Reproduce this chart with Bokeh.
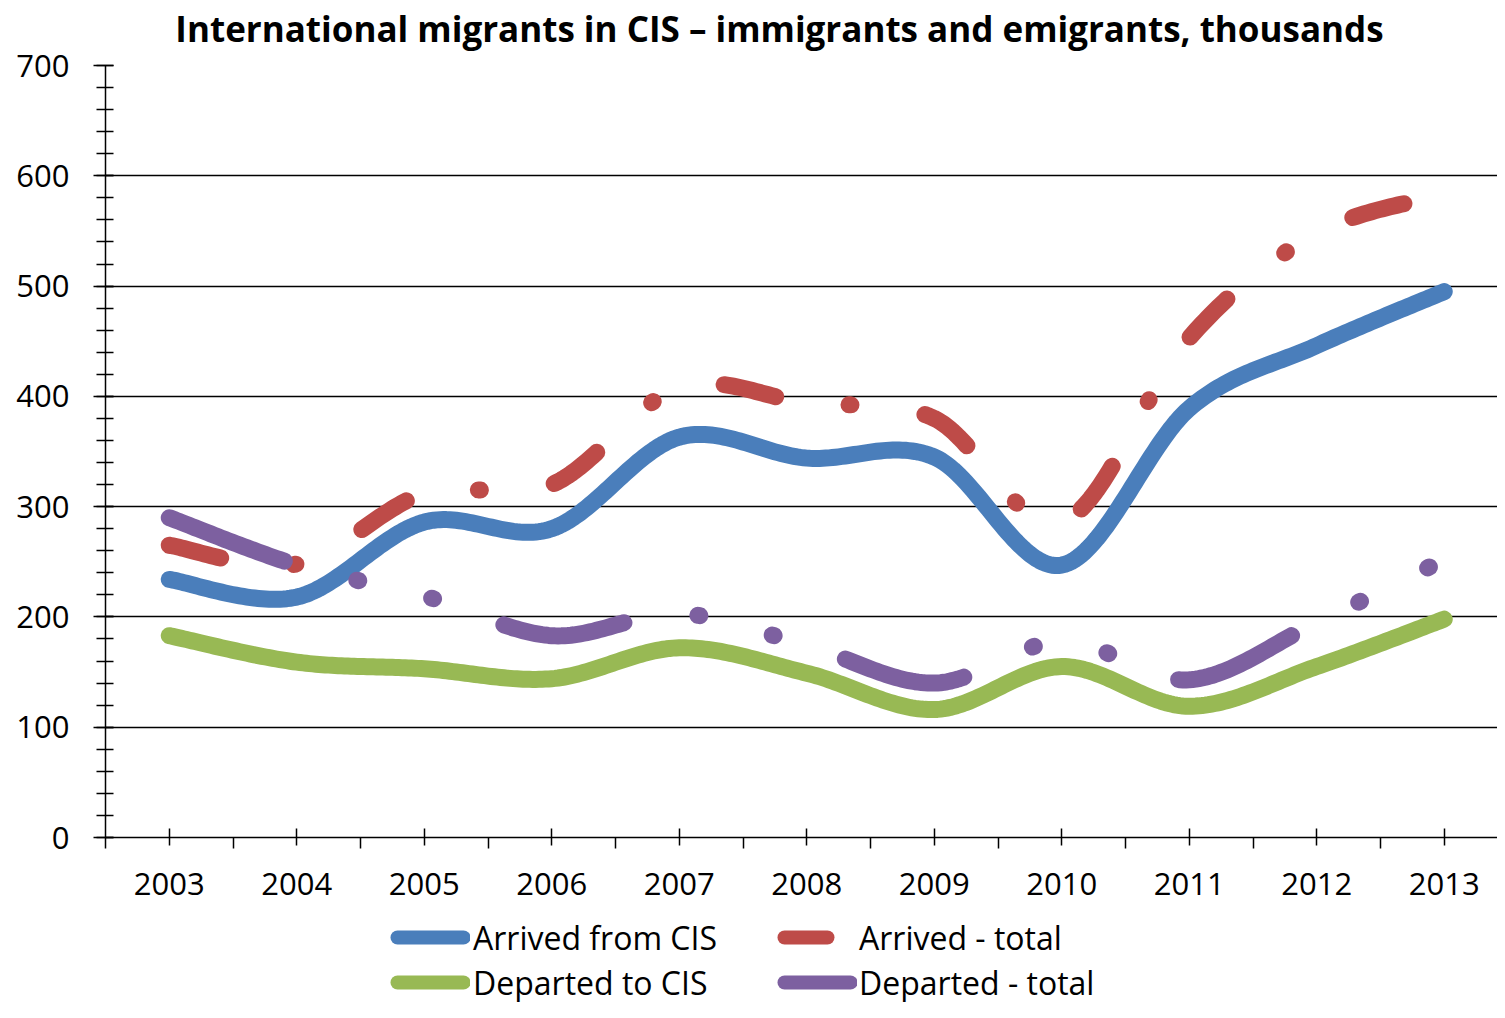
import numpy as np
from bokeh.plotting import figure
from bokeh.layouts import column
from bokeh.models import FixedTicker, Legend, LegendItem, Label
from bokeh.embed import file_html
from bokeh.resources import INLINE

# ---------------- data ----------------
years = [2003, 2004, 2005, 2006, 2007, 2008, 2009, 2010, 2011, 2012, 2013]
arrived_cis = [234, 218, 286, 280, 363, 344, 345, 247, 389, 446, 495]
arrived_total = [265, 248, 312, 320, 408, 394, 380, 286, 453, 548, 583]
departed_cis = [183, 159, 153, 144, 172, 149, 116, 155, 119, 155, 198]
departed_total = [290, 247, 219, 183, 203, 174, 140, 178, 143, 195, 252]
y_ticks = [0, 100, 200, 300, 400, 500, 600, 700]
y_minor = list(range(0, 701, 20))
title_text = "International migrants in CIS \u2013 immigrants and emigrants, thousands"
labels = ["Arrived from CIS", "Arrived - total", "Departed to CIS", "Departed - total"]

FONT = "Open Sans"


def smooth(xs, ys, n=40):
    """Excel-like smoothed line: Catmull-Rom Bezier through the data points."""
    xs = np.asarray(xs, float)
    ys = np.asarray(ys, float)
    outx, outy = [], []
    m = len(xs)
    for i in range(m - 1):
        i0 = max(i - 1, 0)
        i3 = min(i + 2, m - 1)
        p1x, p1y = xs[i], ys[i]
        p2x, p2y = xs[i + 1], ys[i + 1]
        c1x = p1x + (p2x - xs[i0]) / 6.0
        c1y = p1y + (p2y - ys[i0]) / 6.0
        c2x = p2x - (xs[i3] - p1x) / 6.0
        c2y = p2y - (ys[i3] - p1y) / 6.0
        t = np.linspace(0, 1, n, endpoint=(i == m - 2))
        a = (1 - t) ** 3
        b = 3 * (1 - t) ** 2 * t
        c = 3 * (1 - t) * t ** 2
        d = t ** 3
        outx.extend(a * p1x + b * c1x + c * c2x + d * p2x)
        outy.extend(a * p1y + b * c1y + c * c2y + d * p2y)
    return outx, outy


W = 1497
LEFT = 105
FRAME_W = W - LEFT
FRAME_TOP, FRAME_BOTTOM = 65, 837
B = 77
H_MAIN = FRAME_BOTTOM + B
H_LEG = 1002 - H_MAIN
step = 127.5
x_start = years[0] - 0.5
x_end = x_start + FRAME_W / step
px_per_unit = (FRAME_BOTTOM - FRAME_TOP) / (y_ticks[-1] - y_ticks[0])

BLUE, RED, GREEN, PURPLE = "#4A7EBB", "#BE4B48", "#98B954", "#7D60A0"

# ---------------- main chart ----------------
p = figure(width=W, height=H_MAIN, output_backend="svg", toolbar_location=None,
           x_range=(x_start, x_end), y_range=(y_ticks[0], y_ticks[-1]),
           min_border_left=LEFT, min_border_right=0, min_border_top=FRAME_TOP,
           min_border_bottom=B)
p.outline_line_color = None
p.background_fill_color = "white"
p.border_fill_color = "white"

# title as a label in the top panel (outside the clipped frame)
title_cx = x_start + (779 - LEFT) / step
title_cy = y_ticks[-1] + (FRAME_TOP - 28) / px_per_unit
p.add_layout(Label(x=title_cx, y=title_cy, text=title_text, text_align="center",
                   text_baseline="middle", text_font=FONT, text_font_style="bold",
                   text_font_size="35px", text_color="black"), "above")

p.xgrid.grid_line_color = None
p.ygrid.ticker = FixedTicker(ticks=y_ticks)
p.ygrid.grid_line_color = "black"
p.ygrid.grid_line_width = 1.5

p.yaxis.ticker = FixedTicker(ticks=y_ticks, minor_ticks=y_minor)
p.yaxis.axis_line_color = "black"
p.yaxis.axis_line_width = 1.5
p.yaxis.major_tick_line_color = "black"
p.yaxis.major_tick_line_width = 1.5
p.yaxis.major_tick_in = 8
p.yaxis.major_tick_out = 12
p.yaxis.minor_tick_line_color = "black"
p.yaxis.minor_tick_line_width = 1.5
p.yaxis.minor_tick_in = 8
p.yaxis.minor_tick_out = 9
p.yaxis.major_label_standoff = 24
p.yaxis.major_label_text_font = FONT
p.yaxis.major_label_text_font_size = "31px"
p.yaxis.major_label_text_color = "black"

halves = [y - 0.5 for y in years] + [years[-1] + 0.5]
p.xaxis.ticker = FixedTicker(ticks=years, minor_ticks=halves)
p.xaxis.major_label_overrides = {y: str(y) for y in years}
p.xaxis.axis_line_color = "black"
p.xaxis.axis_line_width = 1.5
p.xaxis.major_tick_line_color = "black"
p.xaxis.major_tick_line_width = 1.5
p.xaxis.major_tick_in = 9
p.xaxis.major_tick_out = 8
p.xaxis.minor_tick_line_color = "black"
p.xaxis.minor_tick_line_width = 1.5
p.xaxis.minor_tick_in = 0
p.xaxis.minor_tick_out = 11
p.xaxis.major_label_standoff = 24
p.xaxis.major_label_text_font = FONT
p.xaxis.major_label_text_font_size = "31px"
p.xaxis.major_label_text_color = "black"

LW = 17
RED_DASH = "53 74 2 75"
PURPLE_DASH = "123 75 2 75 2 75"
common = dict(line_width=LW, line_cap="round", line_join="round")

bx, by = smooth(years, arrived_cis)
p.line(bx, by, line_color=BLUE, **common)
rx, ry = smooth(years, arrived_total)
p.line(rx, ry, line_color=RED, line_dash=RED_DASH, **common)
gx, gy = smooth(years, departed_cis)
p.line(gx, gy, line_color=GREEN, **common)
px_, py_ = smooth(years, departed_total)
p.line(px_, py_, line_color=PURPLE, line_dash=PURPLE_DASH, **common)

# ---------------- legend strip ----------------
lf = figure(width=W, height=H_LEG, output_backend="svg", toolbar_location=None,
            x_axis_type=None, y_axis_type=None, x_range=(0, FRAME_W),
            y_range=(0, H_LEG), min_border_left=LEFT, min_border_right=0,
            min_border_top=0, min_border_bottom=0)
lf.outline_line_color = None
lf.grid.visible = False
lf.background_fill_color = "white"
lf.border_fill_color = "white"

LLW = 14
CAP = LLW // 2
leg_common = dict(line_width=LLW, line_cap="round", line_dash_offset=-CAP)
# the series are drawn outside this strip's ranges (invisible); they only feed the legend
l_blue = lf.line(years, arrived_cis, line_color=BLUE, line_dash="66 300", **leg_common)
l_red = lf.line(years, arrived_total, line_color=RED, line_dash="43 300", **leg_common)
l_green = lf.line(years, departed_cis, line_color=GREEN, line_dash="66 300", **leg_common)
l_purple = lf.line(years, departed_total, line_color=PURPLE, line_dash="66 300", **leg_common)

ROW_H = 46
ROW1_Y, ROW2_Y = 937, 982
COL1_X, COL2_X = 390, 777


def make_legend(label, renderer, x, cy, standoff):
    top = (cy - H_MAIN) - ROW_H // 2
    loc_y = H_LEG - (top + ROW_H)
    return Legend(items=[LegendItem(label=label, renderers=[renderer])],
                  location=(x - LEFT, loc_y), orientation="vertical",
                  glyph_width=80, glyph_height=ROW_H, label_height=ROW_H, spacing=0,
                  padding=0, margin=0, label_standoff=standoff,
                  border_line_color=None, background_fill_alpha=0,
                  label_text_font=FONT, label_text_font_size="32px",
                  label_text_color="black")


lf.add_layout(make_legend(labels[0], l_blue, COL1_X, ROW1_Y, 3))
lf.add_layout(make_legend(labels[1], l_red, COL2_X, ROW1_Y, 2))
lf.add_layout(make_legend(labels[2], l_green, COL1_X, ROW2_Y, 3))
lf.add_layout(make_legend(labels[3], l_purple, COL2_X, ROW2_Y, 2))

layout = column(p, lf, spacing=0)
open("out.html", "w").write(file_html(layout, INLINE))
